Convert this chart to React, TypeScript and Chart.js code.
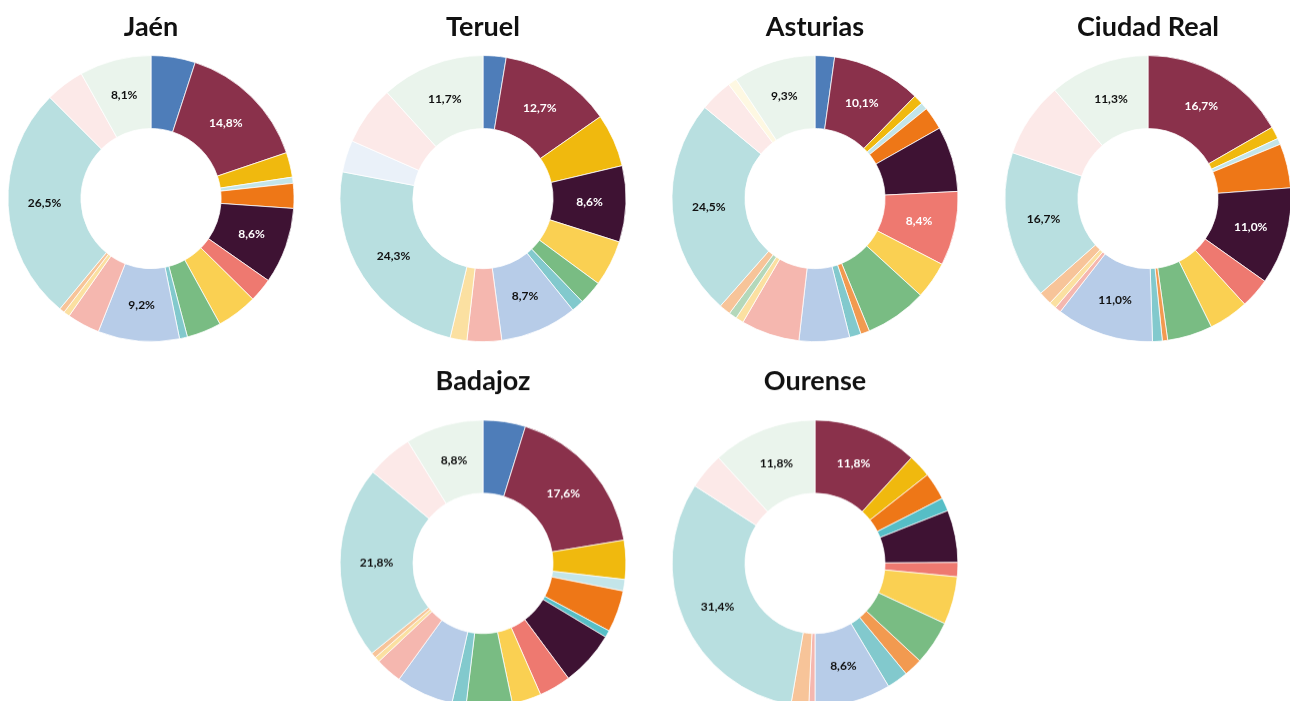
import React, { useEffect, useRef } from "react";
import { Chart, registerables } from "chart.js";

Chart.register(...registerables);

// 22 categories in the order they appear clockwise in every ring
const categories = [
  "C01", "C02", "C03", "C04", "C05", "C06", "C07", "C08", "C09", "C10", "C11",
  "C12", "C13", "C14", "C15", "C16", "C17", "C18", "C19", "C20", "C21", "C22",
];

const colors = [
  "#4E7DB9", "#8A314B", "#F0B90E", "#C3E5E9", "#EE7717", "#56BEC6", "#3E1233",
  "#EE7970", "#FAD052", "#79BC83", "#F29A50", "#82C9CD", "#B7CCE8", "#F5B7AF",
  "#FBE0A1", "#B4D8BA", "#F7C499", "#B8DFE0", "#EAF1F9", "#FCE9E8", "#FEF8E2",
  "#EAF4EC",
];

// labels drawn in white on these categories
const darkCategories = ["C01", "C02", "C07", "C08"];
// categories never labelled
const unlabeledCategories = ["C20"];

const titles = ["Jaén", "Teruel", "Asturias", "Ciudad Real", "Badajoz", "Ourense"];

// shares in percent, same order as categories
const jaen = [5.0, 14.8, 2.8, 0.7, 2.8, 0, 8.6, 2.7, 4.6, 3.9, 0, 0.9, 9.2, 3.7, 0.7, 0, 0.6, 26.5, 0, 4.4, 0, 8.1];
const teruel = [2.6, 12.7, 6.0, 0, 0, 0, 8.6, 0, 5.2, 2.7, 0, 1.4, 8.7, 3.9, 1.9, 0, 0, 24.3, 3.6, 6.7, 0, 11.7];
const asturias = [2.2, 10.1, 1.1, 0.8, 2.6, 0, 7.4, 8.4, 4.2, 7.0, 1.0, 1.3, 5.7, 6.6, 0.9, 0.9, 1.3, 24.5, 0, 3.7, 1.0, 9.3];
const ciudadReal = [0, 16.7, 1.4, 0.7, 5.0, 0, 11.0, 3.4, 4.5, 5.1, 0.6, 1.1, 11.0, 0.7, 0.8, 0, 1.5, 16.7, 0, 8.5, 0, 11.3];
const badajoz = [4.8, 17.6, 4.4, 1.3, 4.7, 0.8, 6.2, 3.6, 3.3, 5.2, 0, 1.6, 6.5, 3.0, 0.6, 0, 0.6, 21.8, 0, 5.2, 0, 8.8];
const ourense = [0, 11.8, 2.6, 0, 3.1, 1.5, 5.9, 1.6, 5.4, 5.0, 2.1, 2.4, 8.6, 0.7, 0, 0, 2.0, 31.4, 0, 4.1, 0, 11.8];

const series = [jaen, teruel, asturias, ciudadReal, badajoz, ourense];

// minimum share that gets a label
const labelThreshold = 8;

// layout of each ring on the page: centre x, top of canvas, title padding
const placements = [
  { cx: 150.5, top: 0, padTop: 13.5, padBottom: 14.7 },
  { cx: 482.7, top: 0, padTop: 13.5, padBottom: 14.7 },
  { cx: 814.7, top: 0, padTop: 13.5, padBottom: 14.7 },
  { cx: 1148.3, top: 0, padTop: 13.5, padBottom: 14.7 },
  { cx: 482.7, top: 354, padTop: 13.5, padBottom: 25 },
  { cx: 814.5, top: 354, padTop: 13.5, padBottom: 25 },
];

const TITLE_SIZE = 27;
const RING_BOX = 287;
const CANVAS_W = 300;

const fmt = (v: number) => v.toFixed(1).replace(".", ",") + "%";

const labelPlugin = {
  id: "sliceLabels",
  afterDatasetsDraw(chart: any) {
    const ctx = chart.ctx;
    const meta = chart.getDatasetMeta(0);
    const data = chart.data.datasets[0].data as number[];
    ctx.save();
    ctx.font = "bold 12px Lato";
    ctx.textAlign = "center";
    ctx.textBaseline = "middle";
    meta.data.forEach((arc: any, i: number) => {
      const v = data[i];
      if (v < labelThreshold || unlabeledCategories.includes(categories[i])) return;
      const p = arc.tooltipPosition();
      ctx.fillStyle = darkCategories.includes(categories[i]) ? "#FFFFFF" : "#111111";
      ctx.fillText(fmt(v), p.x, p.y);
    });
    ctx.restore();
  },
};

function Ring({ index }: { index: number }) {
  const ref = useRef<HTMLCanvasElement>(null);
  const pl = placements[index];
  const height = pl.padTop + TITLE_SIZE + pl.padBottom + RING_BOX;

  useEffect(() => {
    if (!ref.current) return;
    const chart = new Chart(ref.current, {
      type: "doughnut",
      data: {
        labels: categories,
        datasets: [
          {
            data: series[index],
            backgroundColor: colors,
            borderColor: "#FFFFFF",
            borderWidth: 0.75,
          },
        ],
      },
      options: {
        responsive: false,
        animation: false,
        events: [],
        cutout: "49%",
        layout: { padding: 0 },
        plugins: {
          legend: { display: false },
          tooltip: { enabled: false },
          title: {
            display: true,
            text: titles[index],
            color: "#111111",
            font: { family: "Lato", weight: "bold", size: TITLE_SIZE, lineHeight: 1 },
            padding: { top: pl.padTop, bottom: pl.padBottom },
          },
        },
      },
      plugins: [labelPlugin],
    });
    return () => chart.destroy();
  }, [index]);

  return (
    <canvas
      ref={ref}
      width={CANVAS_W}
      height={height}
      style={{
        position: "absolute",
        left: pl.cx - CANVAS_W / 2,
        top: pl.top,
        width: CANVAS_W,
        height,
      }}
    />
  );
}

export default function App() {
  return (
    <div
      style={{
        position: "fixed",
        left: 0,
        top: 0,
        width: 1290,
        height: 701,
        overflow: "hidden",
        background: "#FFFFFF",
      }}
    >
      {titles.map((_, i) => (
        <Ring key={i} index={i} />
      ))}
    </div>
  );
}
